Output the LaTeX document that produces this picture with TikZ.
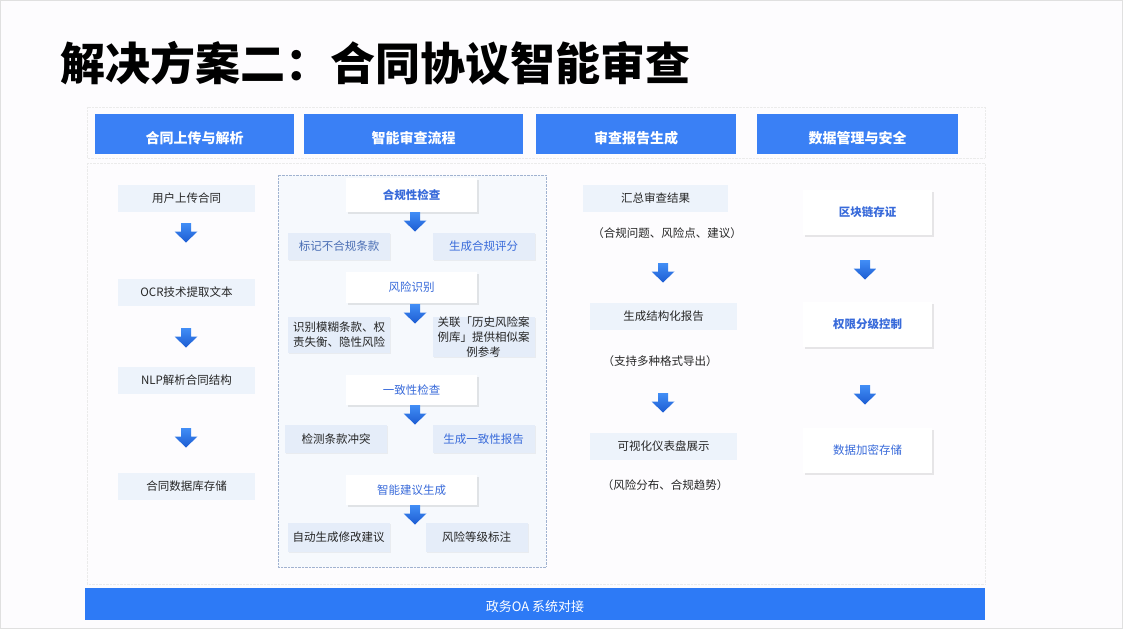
\documentclass[tikz,border=0pt]{standalone}
\usepackage{fontspec}
\setmainfont{Noto Sans CJK SC}
\usetikzlibrary{shadows}
\definecolor{hdblue}{RGB}{58,128,245}
\definecolor{barblue}{RGB}{45,122,246}
\definecolor{txblue}{RGB}{56,106,218}
\definecolor{grblue}{RGB}{74,110,180}
\definecolor{boxfill}{RGB}{237,243,251}
\definecolor{subfill}{RGB}{229,237,249}
\definecolor{panelfill}{RGB}{246,249,253}
\definecolor{panelline}{RGB}{160,178,208}
\definecolor{arrtop}{RGB}{66,142,246}
\definecolor{arrbot}{RGB}{28,92,210}
\definecolor{pagebg}{RGB}{253,252,254}

\begin{document}
\begin{tikzpicture}[x=1pt,y=-1pt,
	head/.style={fill=hdblue,text=white,font=\bfseries\fontsize{14}{16}\selectfont,minimum height=40pt,inner sep=0pt,
		text height=19.5pt,text depth=0pt},
	plain/.style={fill=boxfill,text=black!85,font=\fontsize{11.5}{14}\selectfont,minimum width=137pt,minimum height=27pt,inner sep=0pt},
	wbox/.style={fill=white,text=txblue,font=\fontsize{11.5}{14}\selectfont,minimum width=131pt,inner sep=0pt,
		drop shadow={shadow xshift=1.5pt,shadow yshift=-1.5pt,opacity=.18}},
	subbox/.style={fill=subfill,text=black!85,font=\fontsize{11.5}{15}\selectfont,minimum width=102pt,inner sep=0pt,
		drop shadow={shadow xshift=1pt,shadow yshift=-1pt,opacity=.1}},
	note/.style={text=black!85,font=\fontsize{11.5}{14}\selectfont,inner sep=0pt},
	darrow/.pic={\shade[top color=arrtop,bottom color=arrbot] (-5,0) -- (5,0) -- (5,8.5) -- (11.5,8.5) -- (0,19.5) -- (-11.5,8.5) -- (-5,8.5) -- cycle;}]
	\useasboundingbox (0,0) rectangle (1123,629);
	\fill[pagebg] (0,0) rectangle (1123,629);
	\draw[black!12] (0.5,0.5) rectangle (1122.5,628);
	% title
	\node[anchor=west,inner sep=0pt,font=\bfseries\fontsize{45}{50}\selectfont] (title) at (60,63) {解决方案二：合同协议智能审查};
	% frames
	\draw[black!8,densely dotted] (87,107) rectangle (985,158);
	\draw[black!8,densely dotted] (87,163) rectangle (985,584);
	\draw[panelline,densely dotted,fill=panelfill] (278,175) rectangle (546,567);
	% column heads
	\foreach \n/\xx/\w/\t in {ha/194.5/199/合同上传与解析, hb/413.5/219/智能审查流程, hc/636/200/审查报告生成, hd/857.5/201/数据管理与安全}
		\node[head,minimum width=\w pt] (\n) at (\xx,134) {\t};
	% upload
	\foreach \n/\yy/\t in {ua/198.5/用户上传合同, ub/292/OCR技术提取文本, uc/380/NLP解析合同结构, ud/486.5/合同数据库存储}
		\node[plain] (\n) at (186.5,\yy) {\t};
	\foreach \yy in {223,328,428}
		\pic at (186,\yy) {darrow};
	% review flow
	\foreach \n/\yy/\h/\t in {ka/195/34/\textbf{合规性检查}, kb/287.5/31/风险识别, kc/390/30/一致性检查, kd/490/30/智能建议生成}
		\node[wbox,minimum height=\h pt] (\n) at (411.5,\yy) {\t};
	\foreach \yy in {212,304,405,505}
		\pic at (415,\yy) {darrow};
	\node[subbox,minimum height=27pt,text=grblue] (sa) at (339,246.5) {标记不合规条款};
	\node[subbox,minimum height=27pt,text=txblue] (sb) at (483.5,246.5) {生成合规评分};
	\node[subbox,minimum height=36pt,align=left] (sc) at (339,335) {识别模糊条款、权\\责失衡、隐性风险};
	\node[subbox,minimum height=36pt,align=center] (sd) at (483.5,337) {关联「历史风险案\\例库」提供相似案\\例参考};
	\node[subbox,minimum height=28pt] (se) at (336,439) {检测条款冲突};
	\node[subbox,minimum height=28pt,text=txblue] (sf) at (483.5,439) {生成一致性报告};
	\node[subbox,minimum height=29pt] (sg) at (338.5,537.5) {自动生成修改建议};
	\node[subbox,minimum height=29pt] (sh) at (476.5,537.5) {风险等级标注};
	% report
	\node[plain,minimum width=145pt] (ra) at (655.5,198.5) {汇总审查结果};
	\node[note] (na) at (667,233) {（合规问题、风险点、建议）};
	\node[plain,minimum width=147pt] (rb) at (663.5,316.5) {生成结构化报告};
	\node[note] (nb) at (660,361) {（支持多种格式导出）};
	\node[plain,minimum width=147pt] (rc) at (663.5,446.5) {可视化仪表盘展示};
	\node[note] (nc) at (665,485) {（风险分布、合规趋势）};
	\foreach \yy in {263,393}
		\pic at (663,\yy) {darrow};
	% data security
	\foreach \n/\yy/\t in {da/212.5/\textbf{区块链存证}, db/324.5/\textbf{权限分级控制}, dc/450.5/数据加密存储}
		\node[wbox,minimum width=129pt,minimum height=45pt] (\n) at (867.5,\yy) {\t};
	\foreach \yy in {260,385}
		\pic at (865,\yy) {darrow};
	% bottom bar
	\node[fill=barblue,text=white,font=\fontsize{13}{15}\selectfont,minimum width=900pt,minimum height=32pt,inner sep=0pt,
		text height=14.5pt,text depth=0pt] (oa) at (535,604) {政务OA 系统对接};
\end{tikzpicture}
\end{document}
